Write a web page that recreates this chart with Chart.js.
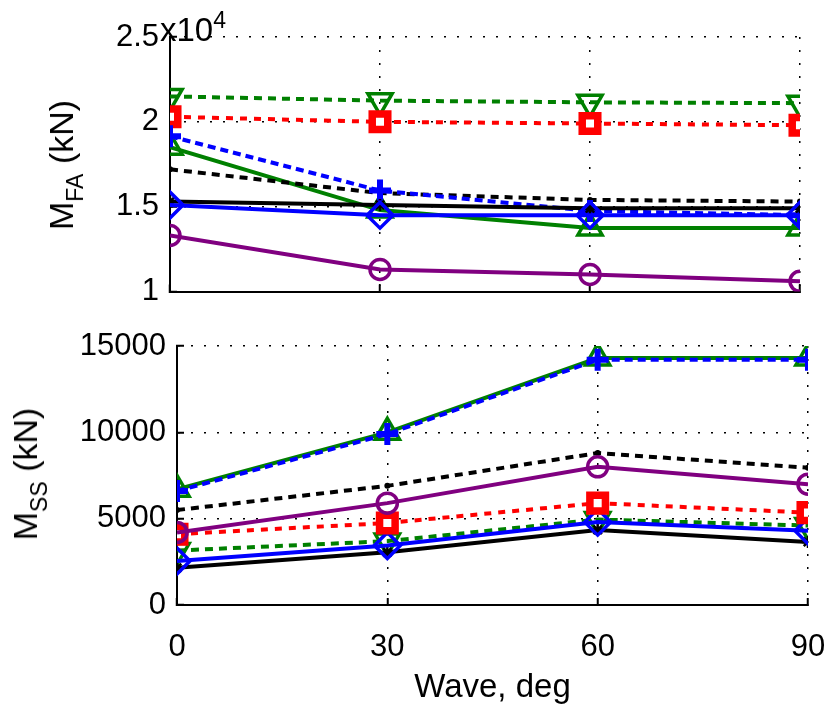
<!DOCTYPE html>
<html>
<head>
<meta charset="utf-8">
<script src="https://cdn.jsdelivr.net/npm/chart.js@4.4.1/dist/chart.umd.min.js"></script>
<style>
  body { margin: 0; background: #fff; width: 827px; height: 704px; overflow: hidden; position: relative;
         font-family: 'Liberation Sans', Arial, sans-serif; color: #000; }
  .box { position: absolute; left: 0; width: 827px; }
  .ylab { position: absolute; font-size: 34px; line-height: 1; white-space: nowrap;
          transform: translate(-50%, -50%) rotate(-90deg); }
  .ylab sub { font-size: 23px; line-height: 0; vertical-align: -10px; }
  #mult { position: absolute; left: 160px; top: 13px; font-size: 33px; line-height: 1; }
  #mult sup { font-size: 23px; line-height: 0; vertical-align: 13px; }
</style>
</head>
<body>
<div class="box" style="top:0;height:310px"><canvas id="faChart"></canvas></div>
<div class="box" style="top:310px;height:398px"><canvas id="ssChart"></canvas></div>
<div class="ylab" style="left:61px;top:165px">M<sub>FA</sub> (kN)</div>
<div class="ylab" style="left:25px;top:474px">M<sub>SS</sub> (kN)</div>
<div id="mult">x10<sup>4</sup></div>
<script>
const FONT = "'Liberation Sans', Arial, sans-serif";

const angles = [0, 30, 60, 90];
const faTicks = [10000, 15000, 20000, 25000];
const ssTicks = [0, 5000, 10000, 15000];

// fore-aft moment, kN
const faGreenDotted = [21500, 21250, 21150, 21100];
const faRedDotted = [20300, 20000, 19900, 19800];
const faBlueDashed = [19150, 15950, 14750, 14500];
const faGreenSolid = [18500, 14800, 13750, 13750];
const faBlackDashed = [17200, 15800, 15400, 15300];
const faBlackSolid = [15300, 15100, 14900, 14900];
const faBlueSolid = [15100, 14500, 14500, 14500];
const faPurple = [13300, 11300, 11000, 10600];

// side-side moment, kN
const ssGreenSolid = [6700, 10000, 14300, 14300];
const ssBlueDashed = [6600, 9900, 14200, 14200];
const ssBlackDashed = [5500, 6900, 8800, 7950];
const ssPurple = [4200, 5900, 8000, 7000];
const ssRedDotted = [4100, 4750, 5900, 5350];
const ssGreenDotted = [3150, 3700, 4950, 4600];
const ssBlueSolid = [2550, 3450, 4800, 4300];
const ssBlackSolid = [2150, 3050, 4350, 3650];

const GREEN = '#008000', RED = '#ff0000', BLUE = '#0000ff', PURPLE = '#800080', BLACK = '#000000';
const NONE = 'rgba(0,0,0,0)';

const styles = {
    greenDotted: { color: GREEN, dash: [8, 6], point: 'triangle', rot: 180, r: 14, fill: NONE, bw: 3.5 },
    redDotted: { color: RED, dash: [7, 7], point: 'rect', rot: 0, r: 11, fill: '#ffffff', bw: 7.5 },
    blueDashed: { color: BLUE, dash: [8, 5], point: 'cross', rot: 0, r: 11, fill: BLUE, bw: 6 },
    greenSolid: { color: GREEN, dash: [], point: 'triangle', rot: 0, r: 14, fill: NONE, bw: 3.5 },
    blackDashed: { color: BLACK, dash: [8, 6], point: 'circle', rot: 0, r: 2, fill: BLACK, bw: 2 },
    blackSolid: { color: BLACK, dash: [], point: 'star', rot: 0, r: 6, fill: BLACK, bw: 2.5 },
    blueSolid: { color: BLUE, dash: [], point: 'rectRot', rot: 0, r: 13, fill: NONE, bw: 3.5 },
    purple: { color: PURPLE, dash: [], point: 'circle', rot: 0, r: 10, fill: NONE, bw: 3.5 }
};

function line(name, values) {
    const s = styles[name];
    return {
        label: name,
        data: values.map((v, i) => ({ x: angles[i], y: v })),
        borderColor: s.color,
        borderWidth: 4,
        borderDash: s.dash,
        pointStyle: s.point,
        pointRotation: s.rot,
        pointRadius: s.r,
        pointBackgroundColor: s.fill,
        pointBorderColor: s.color,
        pointBorderWidth: s.bw,
        tension: 0,
        fill: false
    };
}

function options(yTicks, showX, yFmt, yWidth, xHeight, padTop, padRight) {
    const gridOpts = { color: BLACK, lineWidth: 1.5, drawTicks: true, tickLength: -7, tickColor: BLACK, tickWidth: 2 };
    return {
        responsive: false,
        animation: false,
        layout: { padding: { top: padTop, right: padRight, left: 0, bottom: 0 } },
        plugins: { legend: { display: false }, tooltip: { enabled: false } },
        scales: {
            x: {
                type: 'linear', min: 0, max: 90,
                afterBuildTicks: s => { s.ticks = angles.map(v => ({ value: v })); },
                afterFit: s => { s.height = xHeight; s.paddingLeft = 0; s.paddingRight = 0; },
                grid: gridOpts,
                border: { display: true, color: BLACK, width: 2, dash: [2, 11] },
                ticks: { display: showX, color: BLACK, padding: 31, font: { family: FONT, size: 31 } },
                title: { display: showX, text: 'Wave, deg', color: BLACK, padding: 0, font: { family: FONT, size: 33 } }
            },
            y: {
                min: yTicks[0], max: yTicks[yTicks.length - 1],
                afterBuildTicks: s => { s.ticks = yTicks.map(v => ({ value: v })); },
                afterFit: s => { s.width = yWidth; s.paddingTop = 0; s.paddingBottom = 0; },
                grid: gridOpts,
                border: { display: true, color: BLACK, width: 2, dash: [2, 11] },
                ticks: { color: BLACK, padding: 18, font: { family: FONT, size: 31 }, callback: yFmt }
            }
        }
    };
}

const faCanvas = document.getElementById('faChart');
faCanvas.width = 827; faCanvas.height = 310;
new Chart(faCanvas, {
    type: 'line',
    data: {
        datasets: [
            line('purple', faPurple),
            line('blueSolid', faBlueSolid),
            line('blackSolid', faBlackSolid),
            line('blueDashed', faBlueDashed),
            line('blackDashed', faBlackDashed),
            line('greenSolid', faGreenSolid),
            line('redDotted', faRedDotted),
            line('greenDotted', faGreenDotted)
        ]
    },
    options: options(faTicks, false, v => String(v / 10000), 170, 14, 37, 27)
});

const ssCanvas = document.getElementById('ssChart');
ssCanvas.width = 827; ssCanvas.height = 398;
new Chart(ssCanvas, {
    type: 'line',
    data: {
        datasets: [
            line('blueDashed', ssBlueDashed),
            line('greenSolid', ssGreenSolid),
            line('purple', ssPurple),
            line('redDotted', ssRedDotted),
            line('blueSolid', ssBlueSolid),
            line('blackSolid', ssBlackSolid),
            line('greenDotted', ssGreenDotted),
            line('blackDashed', ssBlackDashed)
        ]
    },
    options: options(ssTicks, true, v => String(v), 177, 103, 36, 19)
});
</script>
</body>
</html>
